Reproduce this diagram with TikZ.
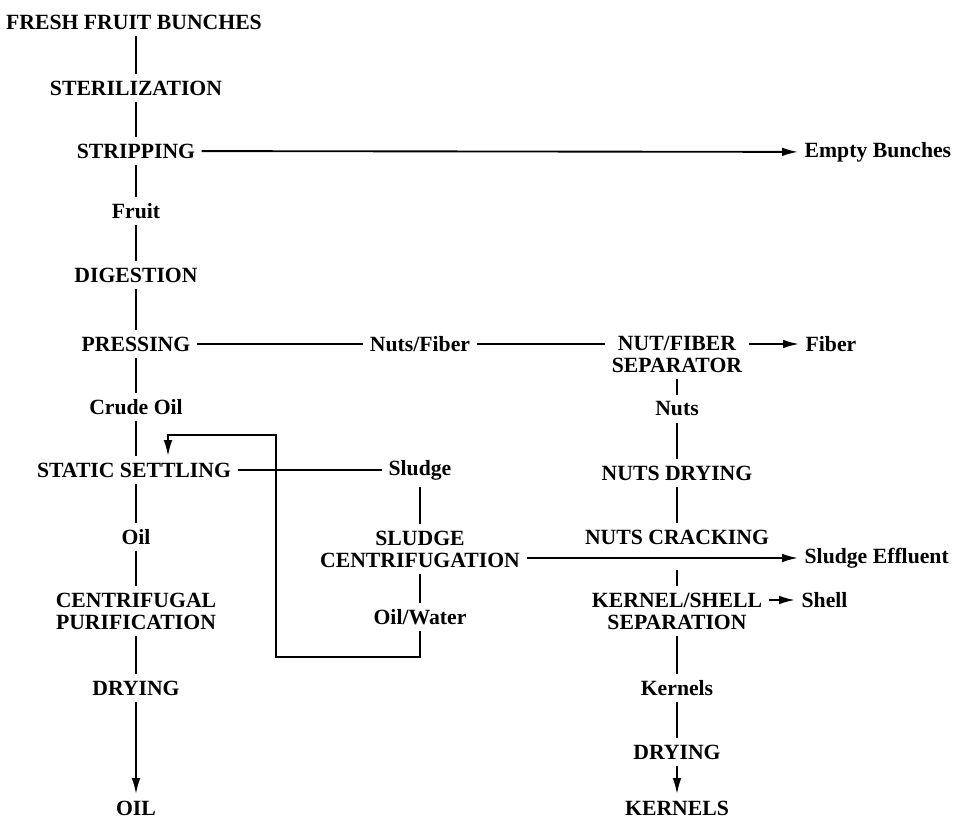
\documentclass[tikz,border=0pt]{standalone}
\usepackage{fontspec}
\setmainfont{Liberation Serif}
\usetikzlibrary{arrows.meta, positioning}

\tikzset{
  lbl/.style={font=\bfseries\fontsize{16.3}{16.5}\selectfont, inner sep=3pt, outer sep=2pt, align=center},
  flow/.style={line width=1.4pt},
  flowarrow/.style={flow, -{Latex[length=12pt, width=6.5pt]}}
}

\begin{document}
\begin{tikzpicture}[x=0.0264cm, y=-0.0264cm]
    \useasboundingbox (0,0) rectangle (953,823);

    % Oil line
    \node[lbl] (FFB) at (134,22) {FRESH FRUIT BUNCHES};
    \node[lbl] (STER) at (136,88) {STERILIZATION};
    \node[lbl] (STRIP) at (136,151) {STRIPPING};
    \node[lbl] (FRUIT) at (136,211) {Fruit};
    \node[lbl] (DIG) at (136,275) {DIGESTION};
    \node[lbl] (PRESS) at (136,344) {PRESSING};
    \node[lbl] (CRUDE) at (136,407) {Crude Oil};
    \node[lbl] (SS) at (134,470) {STATIC SETTLING};
    \node[lbl] (OILC) at (136,537) {Oil};
    \node[lbl] (CP) at (136,611) {CENTRIFUGAL\\PURIFICATION};
    \node[lbl] (DRY) at (136,688) {DRYING};
    \node[lbl] (OIL) at (136,808) {OIL};

    % Sludge line
    \node[lbl] (NF) at (420,344) {Nuts/Fiber};
    \node[lbl] (SLG) at (420,470) {Sludge};
    \node[lbl] (SC) at (420,549) {SLUDGE\\CENTRIFUGATION};
    \node[lbl] (OW) at (420,617) {Oil/Water};

    % Nut line
    \node[lbl] (SEP) at (677,354) {NUT/FIBER\\SEPARATOR};
    \node[lbl] (NUTS) at (677,409) {Nuts};
    \node[lbl] (ND) at (677,473) {NUTS DRYING};
    \node[lbl] (NC) at (677,537) {NUTS CRACKING};
    \node[lbl] (KS) at (677,611) {KERNEL/SHELL\\SEPARATION};
    \node[lbl] (KERN) at (677,688) {Kernels};
    \node[lbl] (DRYK) at (677,752) {DRYING};
    \node[lbl] (KERNELS) at (677,808) {KERNELS};

    % By-products
    \node[lbl, anchor=west] (EB) at (798,152) {Empty Bunches};
    \node[lbl, anchor=west] (FIB) at (799,344) {Fiber};
    \node[lbl, anchor=west] (EFF) at (798,558) {Sludge Effluent};
    \node[lbl, anchor=west] (SHELL) at (795,600) {Shell};

    % Recycle loop
    \coordinate (L1) at (420,657);
    \coordinate (L2) at (276,657);
    \coordinate (L3) at (276,435);
    \coordinate (L4) at (168,435);

    % Main flow
    \draw[flow] (FFB.south -| STER) -- (STER);
    \draw[flow] (STER) -- (STRIP);
    \draw[flow] (STRIP) -- (FRUIT);
    \draw[flow] (FRUIT) -- (DIG);
    \draw[flow] (DIG) -- (PRESS);
    \draw[flow] (PRESS) -- (CRUDE);
    \draw[flow] (CRUDE) -- (CRUDE |- SS.north);
    \draw[flow] (SS.south -| OILC) -- (OILC);
    \draw[flow] (OILC) -- (CP);
    \draw[flow] (CP) -- (DRY);
    \draw[flowarrow] (DRY) -- (OIL);

    \draw[flow] (SLG) -- (SC);
    \draw[flow] (SC) -- (OW);

    \draw[flow] (SEP) -- (NUTS);
    \draw[flow] (NUTS) -- (ND);
    \draw[flow] (ND) -- (NC);
    \draw[flow, shorten <=0.5cm] (NC) -- (KS);
    \draw[flow] (KS) -- (KERN);
    \draw[flow] (KERN) -- (DRYK);
    \draw[flowarrow] (DRYK) -- (KERNELS);

    % Side streams
    \draw[flowarrow] (STRIP) -- (EB);
    \draw[flow] (PRESS) -- (NF);
    \draw[flow] (NF) -- (NF -| SEP.west);
    \draw[flowarrow] (SEP.east |- FIB) -- (FIB);
    \draw[flow] (SS) -- (SLG);
    \draw[flowarrow] (SC.east |- EFF) -- (EFF);
    \draw[flowarrow] (KS.east |- SHELL) -- (SHELL);
    \draw[flowarrow] (OW) -- (L1) -- (L2) -- (L3) -- (L4) -- (L4 |- SS.north);
\end{tikzpicture}
\end{document}
